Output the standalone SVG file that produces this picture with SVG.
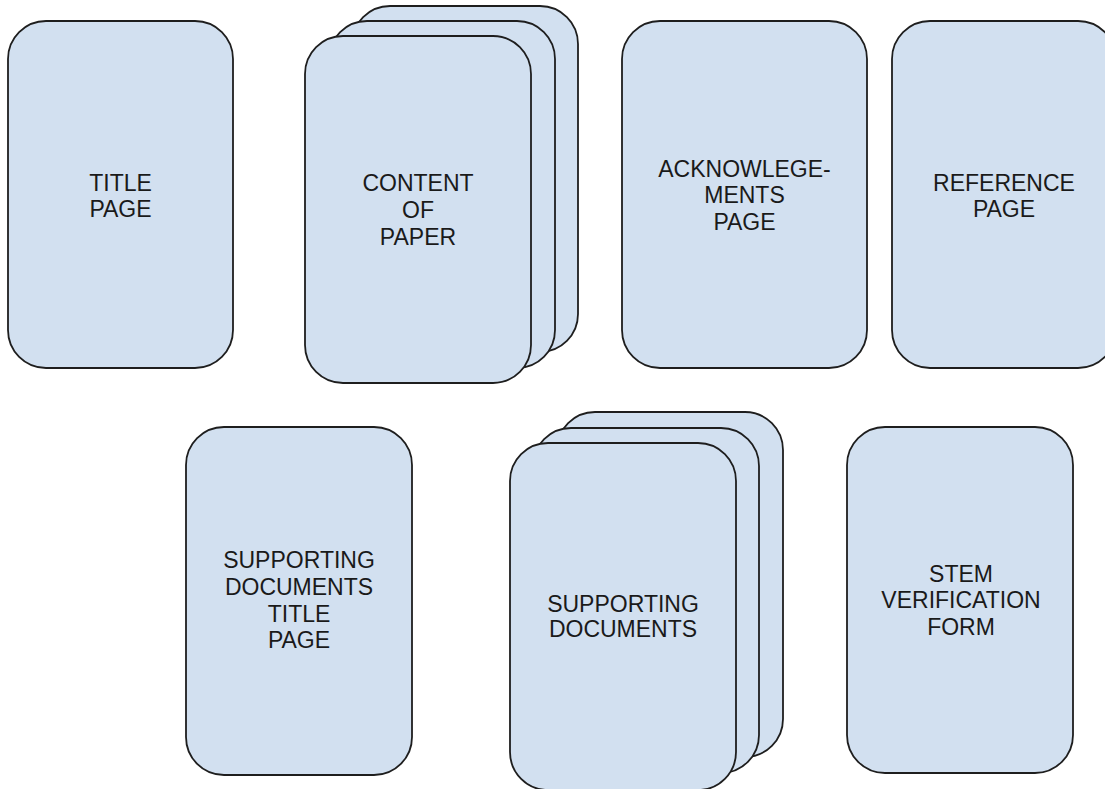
<svg xmlns="http://www.w3.org/2000/svg" width="1105" height="789" viewBox="0 0 1105 789">
<style>
.card{fill:#d2e0f0;stroke:#1e1e1e;stroke-width:1.8}
.lbl{font-family:"Liberation Sans",Arial,sans-serif;font-size:23px;fill:#1a1a1a;text-anchor:middle}
</style>
<rect width="1105" height="789" fill="#ffffff"/>
<g id="title-page">
<rect class="card" x="8" y="21" width="225" height="347" rx="38" ry="38"/>
<text class="lbl"><tspan x="120.5" y="191">TITLE</tspan><tspan x="120.5" y="217">PAGE</tspan></text>
</g>
<g id="content-of-paper">
<rect class="card" x="352" y="6" width="226" height="346" rx="38" ry="38"/>
<rect class="card" x="329" y="21" width="226" height="347" rx="38" ry="38"/>
<rect class="card" x="305" y="36" width="226" height="347" rx="38" ry="38"/>
<text class="lbl"><tspan x="418" y="191">CONTENT</tspan><tspan x="418" y="218">OF</tspan><tspan x="418" y="245">PAPER</tspan></text>
</g>
<g id="acknowledgements-page">
<rect class="card" x="622" y="21" width="245" height="347" rx="38" ry="38"/>
<text class="lbl"><tspan x="744.5" y="177">ACKNOWLEGE-</tspan><tspan x="744.5" y="203">MENTS</tspan><tspan x="744.5" y="230">PAGE</tspan></text>
</g>
<g id="reference-page">
<rect class="card" x="892" y="21" width="224" height="347" rx="38" ry="38"/>
<text class="lbl"><tspan x="1004" y="191">REFERENCE</tspan><tspan x="1004" y="217">PAGE</tspan></text>
</g>
<g id="supporting-documents-title-page">
<rect class="card" x="186" y="427" width="226" height="348" rx="38" ry="38"/>
<text class="lbl"><tspan x="299" y="568">SUPPORTING</tspan><tspan x="299" y="595">DOCUMENTS</tspan><tspan x="299" y="622">TITLE</tspan><tspan x="299" y="648">PAGE</tspan></text>
</g>
<g id="supporting-documents">
<rect class="card" x="557" y="412" width="226" height="345" rx="38" ry="38"/>
<rect class="card" x="533" y="428" width="226" height="345" rx="38" ry="38"/>
<rect class="card" x="510" y="443" width="226" height="347" rx="38" ry="38"/>
<text class="lbl"><tspan x="623" y="612">SUPPORTING</tspan><tspan x="623" y="637">DOCUMENTS</tspan></text>
</g>
<g id="stem-verification-form">
<rect class="card" x="847" y="427" width="226" height="346" rx="38" ry="38"/>
<text class="lbl"><tspan x="961" y="582">STEM</tspan><tspan x="961" y="608">VERIFICATION</tspan><tspan x="961" y="635">FORM</tspan></text>
</g>
<g id="connectors"></g>
</svg>
